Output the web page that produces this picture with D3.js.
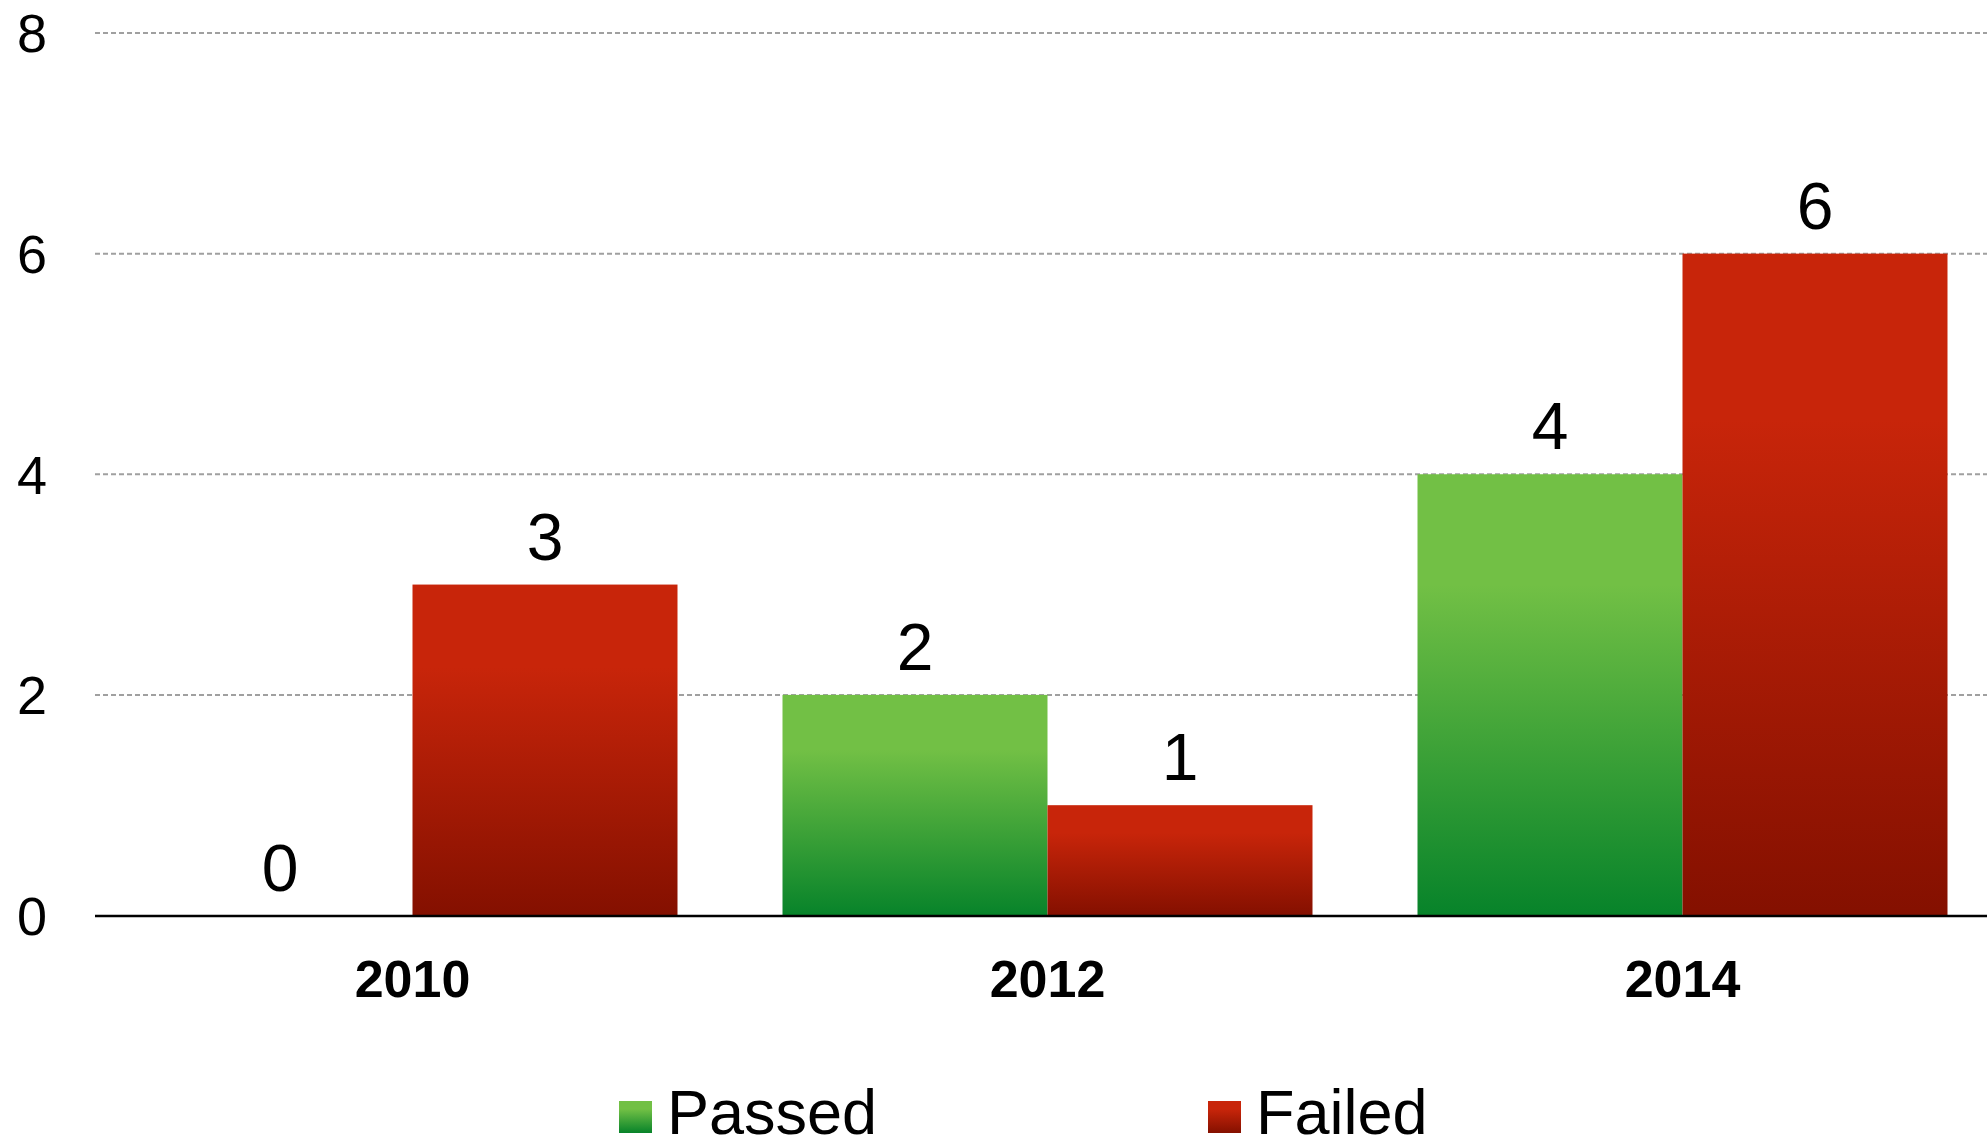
<!DOCTYPE html>
<html>
<head>
<meta charset="utf-8">
<script src="https://cdn.jsdelivr.net/npm/d3@7"></script>
<style>
  html, body { margin: 0; padding: 0; background: #fff; }
  svg { display: block; font-family: "Liberation Sans", Arial, sans-serif; }
</style>
</head>
<body>
<svg id="chart" width="1987" height="1144"></svg>
<script>
const categories = ["2010", "2012", "2014"];
const seriesNames = ["Passed", "Failed"];
const passed = [0, 2, 4];
const failed = [3, 1, 6];
const yTicks = [0, 2, 4, 6, 8];

const W = 1987, H = 1144;
const svg = d3.select("#chart");

const colors = {
  Passed: { top: "#72c045", bottom: "#07832a" },
  Failed: { top: "#c8250a", bottom: "#841000" }
};

const defs = svg.append("defs");
seriesNames.forEach(s => {
  const g = defs.append("linearGradient")
    .attr("id", "grad-" + s)
    .attr("x1", 0).attr("y1", 0).attr("x2", 0).attr("y2", 1);
  g.append("stop").attr("offset", "0").attr("stop-color", colors[s].top);
  g.append("stop").attr("offset", "0.25").attr("stop-color", colors[s].top);
  g.append("stop").attr("offset", "1").attr("stop-color", colors[s].bottom);
});

const x0 = d3.scaleBand().domain(categories).range([95, 2000]).padding(0);
const groupPad = 52.5;
const x1 = d3.scaleBand().domain(seriesNames)
  .range([groupPad, x0.bandwidth() - groupPad]).padding(0);
const y = d3.scaleLinear().domain([0, 8]).range([915.5, 33]);

// gridlines
svg.append("g").selectAll("line")
  .data(yTicks.filter(t => t > 0))
  .join("line")
  .attr("x1", 95).attr("x2", W)
  .attr("y1", d => y(d)).attr("y2", d => y(d))
  .attr("stroke", "#a0a0a0")
  .attr("stroke-width", 2)
  .attr("stroke-dasharray", "5,3");

// y tick labels
const yAxis = d3.axisLeft(y).tickValues(yTicks).tickSize(0).tickPadding(0);
const yg = svg.append("g").attr("transform", "translate(47,0)").call(yAxis);
yg.select(".domain").remove();
yg.selectAll("text")
  .attr("font-size", 54)
  .attr("font-family", "Liberation Sans, Arial, sans-serif")
  .attr("fill", "#000")
  .attr("text-anchor", "end")
  .attr("dy", "0.35em");

const rows = categories.map((c, i) => ({ cat: c, values: [
  { s: "Passed", v: passed[i] }, { s: "Failed", v: failed[i] }
]}));

const groups = svg.append("g").selectAll("g")
  .data(rows).join("g")
  .attr("transform", d => `translate(${x0(d.cat)},0)`);

groups.selectAll("rect")
  .data(d => d.values.filter(v => v.v > 0))
  .join("rect")
  .attr("x", d => x1(d.s))
  .attr("width", x1.bandwidth())
  .attr("y", d => y(d.v))
  .attr("height", d => y(0) - y(d.v))
  .attr("fill", d => `url(#grad-${d.s})`);

groups.selectAll("text.val")
  .data(d => d.values)
  .join("text")
  .attr("class", "val")
  .attr("x", d => x1(d.s) + x1.bandwidth() / 2)
  .attr("y", d => y(d.v) - 25)
  .attr("text-anchor", "middle")
  .attr("font-size", 66)
  .attr("fill", "#000")
  .text(d => d.v);

// x axis line
svg.append("line")
  .attr("x1", 95).attr("x2", W)
  .attr("y1", y(0) + 0.5).attr("y2", y(0) + 0.5)
  .attr("stroke", "#000").attr("stroke-width", 2.5);

// x category labels
const xAxis = d3.axisBottom(x0).tickSize(0).tickPadding(0);
const xg = svg.append("g").attr("transform", "translate(0,997)").call(xAxis);
xg.select(".domain").remove();
xg.selectAll("text")
  .attr("font-size", 52)
  .attr("font-weight", "bold")
  .attr("font-family", "Liberation Sans, Arial, sans-serif")
  .attr("fill", "#000")
  .attr("dy", 0)
  .attr("y", 0);

// legend
const legendX = [619, 1208];
const legend = svg.append("g").selectAll("g")
  .data(seriesNames).join("g")
  .attr("transform", (d, i) => `translate(${legendX[i]},1101)`);
legend.append("rect")
  .attr("width", 33).attr("height", 32)
  .attr("fill", d => `url(#grad-${d})`);
legend.append("text")
  .attr("x", 48).attr("y", 33)
  .attr("font-size", 63)
  .attr("fill", "#000")
  .text(d => d);
</script>
</body>
</html>
